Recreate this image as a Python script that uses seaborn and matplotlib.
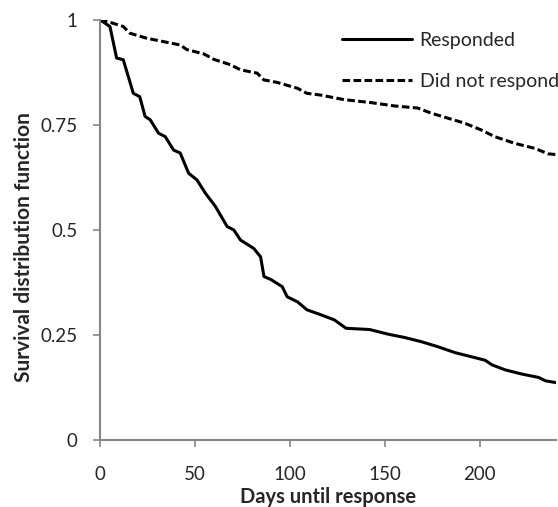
import pandas as pd
import matplotlib
matplotlib.use('Agg')
import matplotlib.pyplot as plt
import seaborn as sns

# Curva dos que responderam (dias, sobrevivência)
dias_resp = [0, 5.3, 8.8, 12.3, 17.6, 21, 23.8, 26.5, 30.9, 34.4, 38.8, 42.3, 46.7, 51.1,
             55.6, 60.8, 67, 70.5, 74, 81, 84.6, 86.4, 90, 96, 98.6, 104, 109, 116.4,
             123.4, 129.6, 142, 151.7, 160.5, 169.3, 178, 187, 195.8, 202.8, 206.4,
             213.4, 222.2, 231, 234.6, 241]
surv_resp = [1.0, 0.984, 0.909, 0.905, 0.825, 0.817, 0.770, 0.762, 0.730, 0.722, 0.690,
             0.683, 0.635, 0.619, 0.587, 0.556, 0.508, 0.500, 0.476, 0.456, 0.436, 0.389,
             0.382, 0.365, 0.341, 0.329, 0.310, 0.298, 0.286, 0.266, 0.263, 0.252, 0.244,
             0.234, 0.222, 0.208, 0.198, 0.190, 0.179, 0.167, 0.157, 0.149, 0.141, 0.136]

# Curva dos que não responderam
dias_nao = [0, 5.3, 12.3, 15.8, 24.7, 33.5, 42.3, 45.8, 54.6, 59.9, 68.7, 74, 82.8, 86.3,
            93.3, 104, 109, 116, 128.5, 142.6, 155, 167.3, 174.3, 183.1, 192, 200.7,
            207.8, 218.4, 229, 236, 241]
surv_nao = [1.0, 0.994, 0.984, 0.968, 0.956, 0.948, 0.940, 0.929, 0.919, 0.906, 0.893,
            0.881, 0.873, 0.857, 0.851, 0.837, 0.825, 0.821, 0.810, 0.803, 0.795, 0.790,
            0.778, 0.766, 0.754, 0.738, 0.722, 0.706, 0.694, 0.681, 0.679]

sns.set_style('white')
plt.rcParams['font.family'] = ['Lato', 'DejaVu Sans']

df_resp = pd.DataFrame({'dias': dias_resp, 'surv': surv_resp})
df_nao = pd.DataFrame({'dias': dias_nao, 'surv': surv_nao})

fig = plt.figure(figsize=(5.58, 5.07), dpi=100)
ax = fig.add_axes([0.179, 0.132, 0.817, 0.829])

sns.lineplot(x='dias', y='surv', data=df_resp, ax=ax, color='black', lw=2.2,
             label='Responded')
sns.lineplot(x='dias', y='surv', data=df_nao, ax=ax, color='black', lw=2.2,
             linestyle=(0, (2.5, 1.1)), label='Did not respond')

ax.set_xlim(0, 240)
ax.set_ylim(0, 1)
ax.set_xticks([0, 50, 100, 150, 200])
ax.set_yticks([0, 0.25, 0.5, 0.75, 1])
ax.set_yticklabels(['0', '0.25', '0.5', '0.75', '1'])
ax.tick_params(axis='both', labelsize=13.5, length=5, width=1.2, color='#868686',
               direction='out', bottom=True, left=True)
ax.tick_params(axis='y', pad=11)
ax.tick_params(axis='x', pad=14)
for s in ['top', 'right']:
    ax.spines[s].set_visible(False)
for s in ['left', 'bottom']:
    ax.spines[s].set_color('#868686')
    ax.spines[s].set_linewidth(1.5)

ax.set_xlabel('Days until response', fontsize=14.5, fontweight='bold')
ax.xaxis.set_label_coords(0.5, -0.112)
ax.set_ylabel('Survival distribution function', fontsize=15, fontweight='bold')
ax.yaxis.set_label_coords(-0.145, 0.46)

leg = ax.legend(loc='upper right', bbox_to_anchor=(1.045, 1.012), frameon=False,
                fontsize=14, handlelength=3.6, handletextpad=0.4, labelspacing=1.2)

fig.savefig('out.png', dpi=100)
